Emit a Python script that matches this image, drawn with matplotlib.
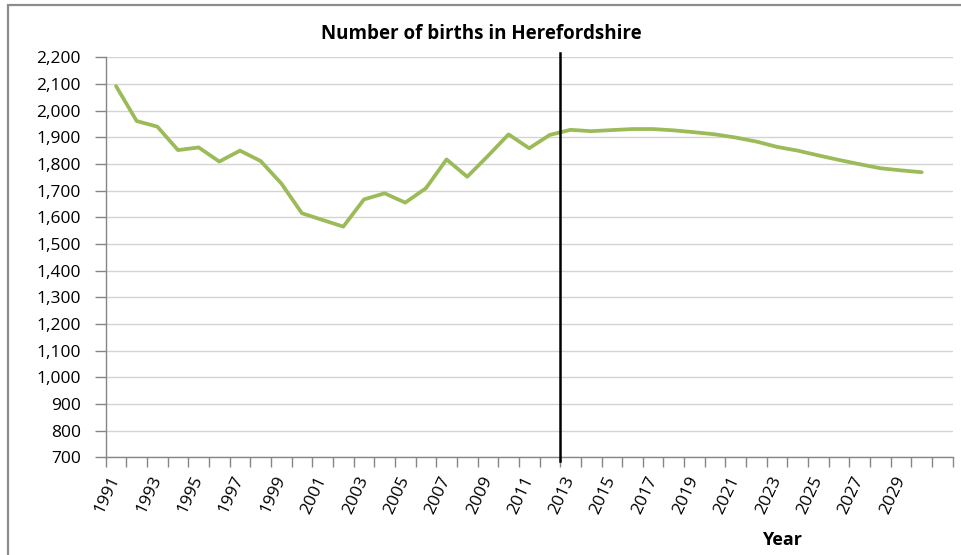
import matplotlib
matplotlib.use("Agg")
import matplotlib.pyplot as plt
from matplotlib.patches import Rectangle
from matplotlib.ticker import FuncFormatter, FixedLocator
import matplotlib.transforms as mtransforms

plt.rcParams['font.family'] = ['Open Sans', 'DejaVu Sans']

# ---- data ----
title = "Number of births in Herefordshire"
x_label = "Year"
years = list(range(1991, 2031))
births = [2092, 1961, 1940, 1852, 1862, 1809, 1850, 1811, 1727, 1615,
          1590, 1565, 1667, 1690, 1655, 1709, 1817, 1752, 1830, 1911,
          1859, 1909, 1928, 1923, 1927, 1931, 1931, 1926, 1919, 1911,
          1899, 1884, 1864, 1850, 1832, 1815, 1799, 1784, 1776, 1769]
axis_years = list(range(1991, 2032))          # category axis incl. one empty slot
label_years = list(range(1991, 2030, 2))
forecast_start = 2013
y_min, y_max, y_step = 700, 2200, 100

# ---- figure ----
W, H = 962, 555
fig = plt.figure(figsize=(W / 100, H / 100), dpi=100)
fig.patch.set_facecolor('white')

# outer frame
fig.patches.append(Rectangle((8 / W, -0.1), 1.2, 1.0 - 5 / H + 0.1,
                             transform=fig.transFigure, fill=False,
                             edgecolor='#8c8c8c', linewidth=1.6))

left, right, top, bottom = 105.7, 952.7, 57.3, 457.3
ax = fig.add_axes([left / W, 1 - bottom / H, (right - left) / W, (bottom - top) / H])

pos = [axis_years.index(y) for y in years]
ax.plot(pos, births, color='#9BBB59', linewidth=2.7, solid_joinstyle='round',
        solid_capstyle='round', zorder=3)

ax.set_xlim(-0.5, len(axis_years) - 0.5)
ax.set_ylim(y_min, y_max)

# y axis
ax.set_yticks(range(y_min, y_max + 1, y_step))
ax.yaxis.set_major_formatter(FuncFormatter(lambda v, p: f"{int(v):,}"))
ax.tick_params(axis='y', length=8, width=1, color='#868686', pad=10,
               labelsize=12.5, labelcolor='black')
ax.yaxis.grid(True, color='#d4d4d4', linewidth=1)
ax.set_axisbelow(True)

# x axis: ticks between categories, labels at category centres
ax.xaxis.set_minor_locator(FixedLocator([i - 0.5 for i in range(len(axis_years) + 1)]))
ax.set_xticks([axis_years.index(y) for y in label_years])
ax.set_xticklabels([str(y) for y in label_years], rotation=65, ha='right',
                   va='center', rotation_mode='anchor')
ax.tick_params(axis='x', which='major', length=0, pad=14, labelsize=12.5,
               labelcolor='black')
ax.tick_params(axis='x', which='minor', length=7, width=1, color='#868686')

for s in ('top', 'right'):
    ax.spines[s].set_visible(False)
for s in ('left', 'bottom'):
    ax.spines[s].set_color('#868686')
    ax.spines[s].set_linewidth(1)

# actual / forecast divider
xdiv = axis_years.index(forecast_start) - 0.5
trans = mtransforms.blended_transform_factory(ax.transData, ax.transAxes)
ax.plot([xdiv, xdiv], [-0.009, 1.011], color='black', linewidth=1.8,
        transform=trans, clip_on=False, zorder=4)

fig.text(481 / W, 1 - 34 / H, title, ha='center', va='center',
         fontsize=13.5, fontweight='bold')
fig.text(782 / W, 1 - 540 / H, x_label, ha='center', va='center',
         fontsize=13, fontweight='bold')

fig.savefig('out.png', dpi=100)
